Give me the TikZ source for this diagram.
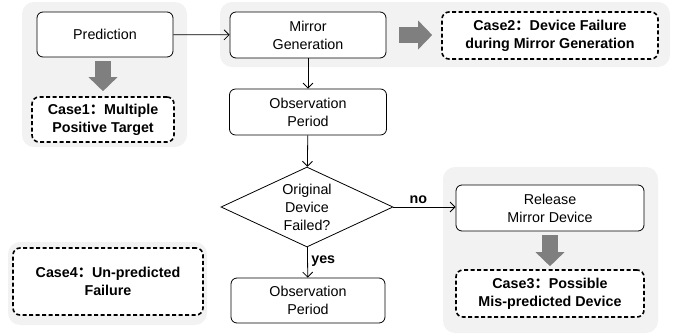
\documentclass[tikz,border=0pt]{standalone}
\usepackage{fontspec}
\setmainfont{Liberation Sans}
\newfontfamily\cjkfont{Noto Sans CJK SC}
\usetikzlibrary{shapes.geometric,arrows.meta}
\definecolor{panelgray}{HTML}{F2F2F2}
\definecolor{bigarrowgray}{HTML}{7F7F7F}
\newcommand{\fwcolon}{{\cjkfont ：}}
\tikzset{
    stepbox/.style={
        rectangle,
        rounded corners=6pt,
        draw,
        fill=white,
        line width=0.8pt,
        align=center,
        inner sep=0pt,
        font=\fontsize{14.3}{18}\selectfont
    },
    casebox/.style={
        rectangle,
        rounded corners=7pt,
        draw,
        fill=white,
        line width=1.6pt,
        dash pattern=on 4pt off 2.5pt,
        align=center,
        inner sep=0pt,
        font=\fontsize{14.3}{18}\selectfont\bfseries
    },
    decision/.style={
        diamond,
        draw,
        fill=white,
        line width=0.8pt,
        aspect=2,
        align=center,
        inner sep=0pt,
        minimum width=172pt,
        minimum height=80pt,
        font=\fontsize{14.3}{18}\selectfont
    },
    panel/.style={
        fill=panelgray,
        rounded corners=12pt
    },
    flow/.style={
        line width=0.8pt,
        -{Straight Barb[length=5pt,width=10pt]}
    },
    bigarrow/.style={
        draw=bigarrowgray,
        line width=16pt,
        -{Triangle[length=14pt,width=28pt]}
    }
}

\begin{document}
\begin{tikzpicture}[x=1pt,y=-1pt]
\useasboundingbox (0,0) rectangle (681,333);
% grey panels
\fill[panel] (22,2) rectangle (187,147);
\fill[panel] (220,2) rectangle (670,67);
\fill[panel] (443,167) rectangle (658,333);
\fill[panel] (8,242) rectangle (207,325);

\node[stepbox, minimum width=136pt, minimum height=45pt] (pred) at (105,34.5) {Prediction};
\node[stepbox, minimum width=156pt, minimum height=46pt] (mirror) at (308,35) {Mirror\\Generation};
\node[stepbox, minimum width=157pt, minimum height=46pt] (obs1) at (308,112) {Observation\\Period};
\node[decision] (failed) at (307,207) {Original\\Device\\Failed?};
\node[stepbox, minimum width=154pt, minimum height=45pt] (obs2) at (308,300.5) {Observation\\Period};
\node[stepbox, minimum width=188pt, minimum height=46pt] (release) at (550,208) {Release\\Mirror Device};

\node[casebox, minimum width=142pt, minimum height=45pt] (case1) at (103,119.5) {Case1\fwcolon Multiple\\Positive Target};
\node[casebox, minimum width=216pt, minimum height=47pt] (case2) at (550,35.5) {Case2\fwcolon Device Failure\\during Mirror Generation};
\node[casebox, minimum width=188pt, minimum height=47pt] (case3) at (550,293.5) {Case3\fwcolon Possible\\Mis-predicted Device};
\node[casebox, minimum width=190pt, minimum height=67pt] (case4) at (108,281.5) {Case4\fwcolon Un-predicted\\Failure};

\draw[flow] (pred) -- (mirror);
\draw[flow] (mirror) -- (obs1);
\draw[flow] (obs1) -- (failed);
\draw[flow] (failed) -- node[above, pos=0.4, font=\fontsize{14.3}{18}\selectfont\bfseries] {no} (release.west |- failed.east);
\draw[flow] (failed) -- node[right, pos=0.45, font=\fontsize{14.3}{18}\selectfont\bfseries] {yes} (obs2);

\draw[bigarrow, shorten <=4pt, shorten >=5pt] (pred.south -| case1.north) -- (case1.north);
\draw[bigarrow, shorten <=13pt, shorten >=9pt] (mirror.east) -- (case2.west |- mirror.east);
\draw[bigarrow, shorten <=4pt, shorten >=3pt] (release) -- (case3);
\end{tikzpicture}
\end{document}
